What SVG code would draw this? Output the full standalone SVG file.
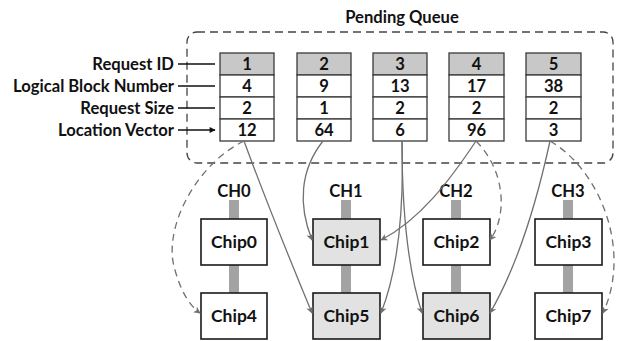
<svg xmlns="http://www.w3.org/2000/svg" width="630" height="341" viewBox="0 0 630 341">
<defs>
<style>
text{font-family:"Lato","Liberation Sans",sans-serif;font-weight:bold;font-size:16.6px;fill:#111}
.lbl{text-anchor:end}
.c{text-anchor:middle}
.ch{font-size:17.5px}
.cell{fill:#fff;stroke:#3a3a3a;stroke-width:1.3}
.hdr{fill:#c8c8c8;stroke:#3a3a3a;stroke-width:1.3}
.chip{fill:#fff;stroke:#1a1a1a;stroke-width:1.6}
.chipg{fill:#e2e2e2;stroke:#1a1a1a;stroke-width:1.6}
.bar{fill:#a3a3a3}
.la{stroke:#111;stroke-width:1.4;fill:none;marker-end:url(#ba)}
.s{stroke:#707070;stroke-width:1.3;fill:none;marker-end:url(#ga)}
.d{stroke:#707070;stroke-width:1.3;fill:none;stroke-dasharray:7 5;marker-end:url(#ga)}
</style>
<marker id="ba" viewBox="0 0 10 10" refX="9" refY="5" markerWidth="9" markerHeight="6" markerUnits="userSpaceOnUse" orient="auto"><path d="M0,0L10,5L0,10z" fill="#111"/></marker>
<marker id="ga" viewBox="0 0 10 10" refX="9" refY="5" markerWidth="8" markerHeight="7" markerUnits="userSpaceOnUse" orient="auto"><path d="M0,0L10,5L0,10L3,5z" fill="#707070"/></marker>
</defs>
<rect x="187" y="32" width="426" height="131" rx="10" fill="none" stroke="#444" stroke-width="1.3" stroke-dasharray="8 5"/>
<text class="c" x="402" y="23">Pending Queue</text>
<g id="labels">
<text class="lbl" x="174" y="70">Request ID</text>
<text class="lbl" x="174" y="92">Logical Block Number</text>
<text class="lbl" x="174" y="114">Request Size</text>
<text class="lbl" x="174" y="136">Location Vector</text>
<path class="la" d="M178,64H215M178,86H215M178,108H215M178,130H215"/>
</g>
<g id="req1">
<rect class="hdr" x="220" y="53" width="54" height="22"/><rect class="cell" x="220" y="75" width="54" height="22"/><rect class="cell" x="220" y="97" width="54" height="22"/><rect class="cell" x="220" y="119" width="54" height="22"/>
<text class="c" x="247" y="70">1</text><text class="c" x="247" y="92">4</text><text class="c" x="247" y="114">2</text><text class="c" x="247" y="136">12</text>
</g>
<g id="req2">
<rect class="hdr" x="297" y="53" width="54" height="22"/><rect class="cell" x="297" y="75" width="54" height="22"/><rect class="cell" x="297" y="97" width="54" height="22"/><rect class="cell" x="297" y="119" width="54" height="22"/>
<text class="c" x="324" y="70">2</text><text class="c" x="324" y="92">9</text><text class="c" x="324" y="114">1</text><text class="c" x="324" y="136">64</text>
</g>
<g id="req3">
<rect class="hdr" x="373" y="53" width="54" height="22"/><rect class="cell" x="373" y="75" width="54" height="22"/><rect class="cell" x="373" y="97" width="54" height="22"/><rect class="cell" x="373" y="119" width="54" height="22"/>
<text class="c" x="400" y="70">3</text><text class="c" x="400" y="92">13</text><text class="c" x="400" y="114">2</text><text class="c" x="400" y="136">6</text>
</g>
<g id="req4">
<rect class="hdr" x="449" y="53" width="55" height="22"/><rect class="cell" x="449" y="75" width="55" height="22"/><rect class="cell" x="449" y="97" width="55" height="22"/><rect class="cell" x="449" y="119" width="55" height="22"/>
<text class="c" x="476.5" y="70">4</text><text class="c" x="476.5" y="92">17</text><text class="c" x="476.5" y="114">2</text><text class="c" x="476.5" y="136">96</text>
</g>
<g id="req5">
<rect class="hdr" x="526" y="53" width="55" height="22"/><rect class="cell" x="526" y="75" width="55" height="22"/><rect class="cell" x="526" y="97" width="55" height="22"/><rect class="cell" x="526" y="119" width="55" height="22"/>
<text class="c" x="553.5" y="70">5</text><text class="c" x="553.5" y="92">38</text><text class="c" x="553.5" y="114">2</text><text class="c" x="553.5" y="136">3</text>
</g>
<g id="channels">
<text class="c" x="234" y="197">CH0</text><text class="c" x="346" y="197">CH1</text><text class="c" x="456" y="197">CH2</text><text class="c" x="568" y="197">CH3</text>
<rect class="bar" x="229" y="200" width="10" height="93"/>
<rect class="bar" x="341" y="200" width="10" height="93"/>
<rect class="bar" x="451" y="200" width="10" height="93"/>
<rect class="bar" x="563" y="200" width="10" height="93"/>
</g>
<g id="chip0"><rect class="chip" x="201" y="219" width="66" height="46"/><text class="c ch" x="234" y="248">Chip0</text></g>
<g id="chip1"><rect class="chipg" x="313" y="219" width="67" height="46"/><text class="c ch" x="346.5" y="248">Chip1</text></g>
<g id="chip2"><rect class="chip" x="423" y="219" width="67" height="46"/><text class="c ch" x="456.5" y="248">Chip2</text></g>
<g id="chip3"><rect class="chip" x="535" y="219" width="67" height="46"/><text class="c ch" x="568.5" y="248">Chip3</text></g>
<g id="chip4"><rect class="chip" x="201" y="293" width="66" height="46"/><text class="c ch" x="234" y="322">Chip4</text></g>
<g id="chip5"><rect class="chipg" x="313" y="293" width="67" height="46"/><text class="c ch" x="346.5" y="322">Chip5</text></g>
<g id="chip6"><rect class="chipg" x="423" y="293" width="67" height="46"/><text class="c ch" x="456.5" y="322">Chip6</text></g>
<g id="chip7"><rect class="chip" x="535" y="293" width="67" height="46"/><text class="c ch" x="568.5" y="322">Chip7</text></g>
<g id="connectors">
<path class="d" d="M244,141C195,165 162,230 175,270C181,292 190,306 200,313"/>
<path class="s" d="M244,141C262,190 290,260 312,313"/>
<path class="s" d="M323,141C300,170 298,205 312,240"/>
<path class="s" d="M402,141C404,210 398,270 381,313"/>
<path class="s" d="M402,141C402,210 408,270 422,313"/>
<path class="s" d="M476,141C450,180 420,220 381,240"/>
<path class="d" d="M476,141C505,170 508,215 490,240"/>
<path class="s" d="M550,141C535,210 515,270 490,313"/>
<path class="d" d="M550,141C600,170 632,250 603,313"/>
</g>
</svg>
